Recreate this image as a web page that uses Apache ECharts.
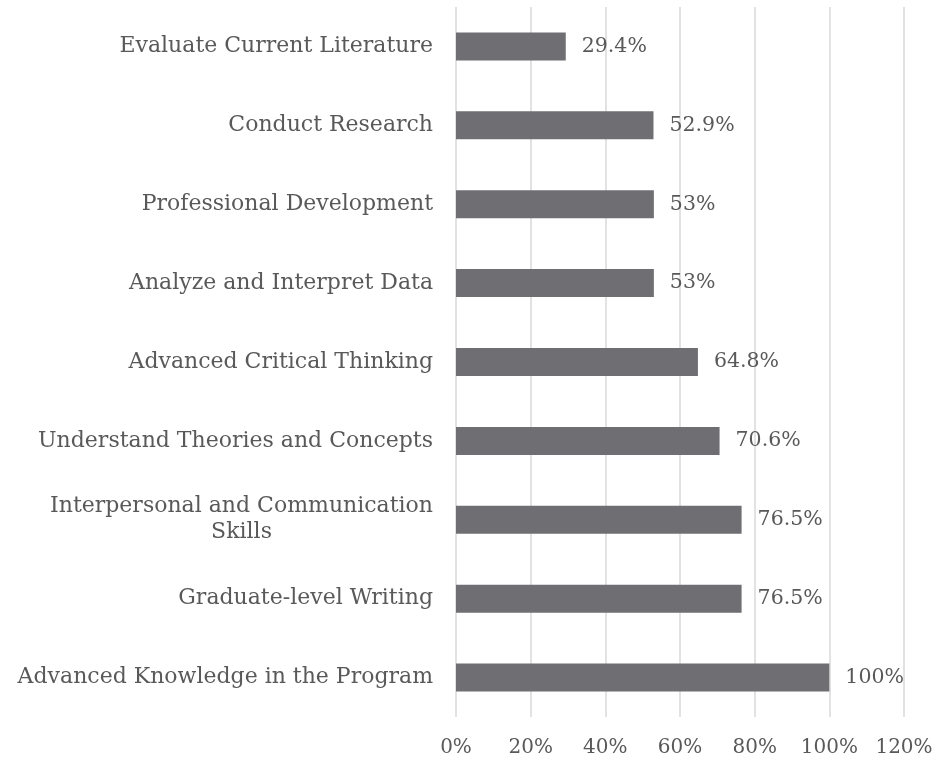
<!DOCTYPE html>
<html>
<head>
<meta charset="utf-8">
<script src="https://cdn.jsdelivr.net/npm/echarts@6/dist/echarts.min.js"></script>
<style>
  html, body { margin: 0; padding: 0; background: #ffffff; }
  #chart { width: 945px; height: 760px; }
</style>
</head>
<body>
<div id="chart"></div>
<script>
// Skill categories, listed top to bottom
const categories = [
  'Evaluate Current Literature',
  'Conduct Research',
  'Professional Development',
  'Analyze and Interpret Data',
  'Advanced Critical Thinking',
  'Understand Theories and Concepts',
  'Interpersonal and Communication\nSkills',
  'Graduate-level Writing',
  'Advanced Knowledge in the Program'
];

// Percentage of respondents for each skill
const values = [29.4, 52.9, 53, 53, 64.8, 70.6, 76.5, 76.5, 100];

// Value axis ticks
const axisMin = 0;
const axisMax = 120;
const axisStep = 20;

const FONT = 'DejaVu Serif';
const TEXT = '#595959';

const chart = echarts.init(document.getElementById('chart'), null, { renderer: 'canvas' });

chart.setOption({
  animation: false,
  backgroundColor: '#ffffff',
  grid: { left: 456, right: 41, top: 7, bottom: 43, containLabel: false },
  xAxis: {
    type: 'value',
    min: axisMin,
    max: axisMax,
    interval: axisStep,
    axisLine: { show: false },
    axisTick: { show: false },
    splitLine: { show: true, lineStyle: { color: '#d9d9d9', width: 1.5 } },
    axisLabel: {
      formatter: '{value}%',
      color: TEXT,
      fontFamily: FONT,
      fontSize: 20,
      margin: 21
    }
  },
  yAxis: {
    type: 'category',
    inverse: true,
    data: categories,
    axisLine: { show: false },
    axisTick: { show: false },
    axisLabel: {
      color: TEXT,
      fontFamily: FONT,
      fontSize: 22,
      margin: 23,
      lineHeight: 26,
      formatter: function (v) { return '{c|' + v + '}'; },
      rich: {
        c: { color: TEXT, fontFamily: FONT, fontSize: 22, lineHeight: 26, align: 'center' }
      }
    }
  },
  series: [{
    type: 'bar',
    data: values,
    barWidth: 28,
    itemStyle: { color: '#6f6e73' },
    label: {
      show: true,
      position: 'right',
      distance: 16,
      formatter: '{c}%',
      color: TEXT,
      fontFamily: FONT,
      fontSize: 20.5
    }
  }]
});
</script>
</body>
</html>
